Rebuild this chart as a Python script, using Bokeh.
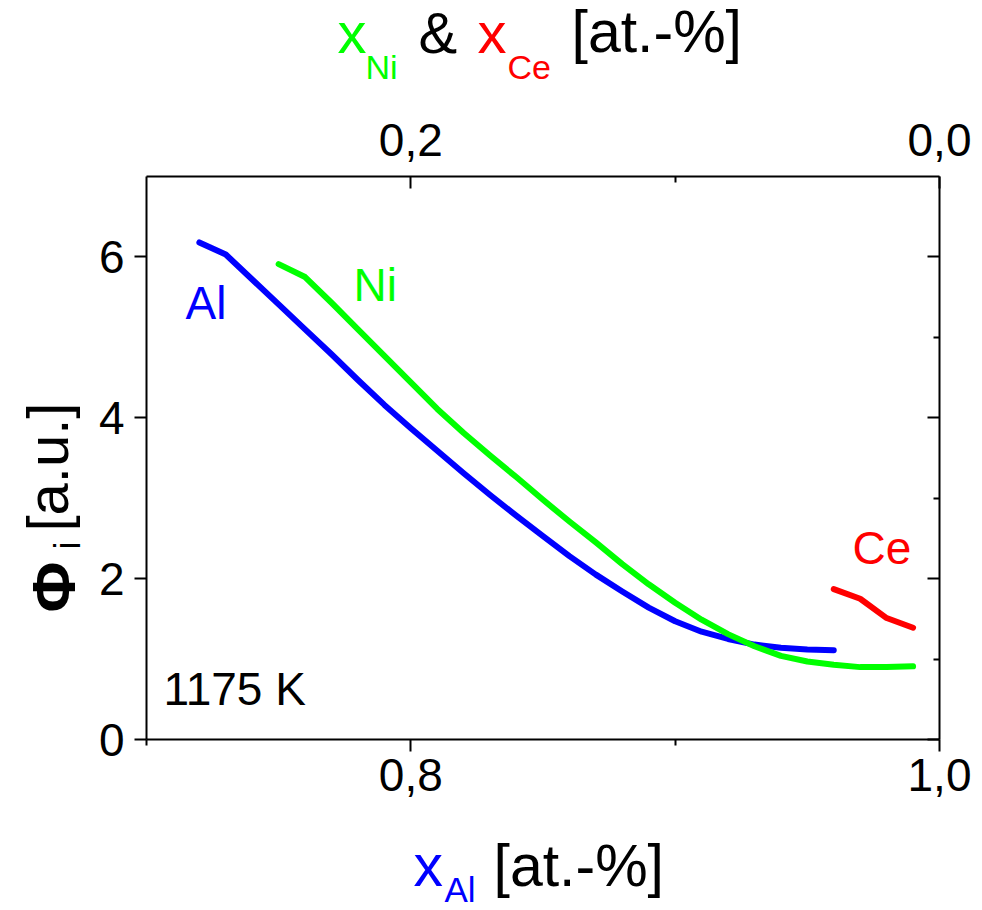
import math
from bokeh.plotting import figure
from bokeh.models import (Range1d, LinearAxis, FixedTicker, CustomJSTickFormatter, Label)
from bokeh.embed import file_html
from bokeh.resources import INLINE

# ---- data ----
al_x = [0.72, 0.73, 0.74, 0.75, 0.76, 0.77, 0.78, 0.79, 0.80, 0.81, 0.82, 0.83, 0.84,
        0.85, 0.86, 0.87, 0.88, 0.89, 0.90, 0.91, 0.92, 0.93, 0.94, 0.95, 0.96]
al_phi = [6.18, 6.03, 5.72, 5.41, 5.10, 4.79, 4.47, 4.16, 3.87, 3.59, 3.31, 3.04, 2.78,
          2.53, 2.28, 2.05, 1.84, 1.64, 1.47, 1.34, 1.25, 1.18, 1.14, 1.12, 1.11]

ni_x = [0.25, 0.24, 0.23, 0.22, 0.21, 0.20, 0.19, 0.18, 0.17, 0.16, 0.15, 0.14, 0.13,
        0.12, 0.11, 0.10, 0.09, 0.08, 0.07, 0.06, 0.05, 0.04, 0.03, 0.02, 0.01]
ni_phi = [5.91, 5.75, 5.43, 5.10, 4.77, 4.44, 4.11, 3.81, 3.53, 3.26, 2.98, 2.71, 2.45,
          2.18, 1.93, 1.70, 1.49, 1.31, 1.16, 1.04, 0.97, 0.93, 0.90, 0.90, 0.91]

ce_x = [0.04, 0.03, 0.02, 0.01]
ce_phi = [1.87, 1.75, 1.51, 1.39]

bottom_major = [0.8, 1.0]
bottom_minor = [0.7, 0.9]
top_major = [0.0, 0.2]
top_minor = [0.1]
y_major = [0, 2, 4, 6]
y_minor = [1, 3, 5]

FONT = "Liberation Sans"
BLUE = "#0000FF"
GREEN = "#00FF00"
RED = "#FF0000"

# ---- layout (pixels) ----
W, H = 982, 910
PL, PR, PT, PB = 146.0, 939.0, 176.0, 739.0   # plot box edges on the canvas
X0, X1 = 0.7, 1.0
Y0, Y1 = 0.0, 7.0
kx = (PR - PL) / (X1 - X0)
ky = (PB - PT) / (Y1 - Y0)
xs, xe = X0 - PL / kx, X1 + (W - PR) / kx
ys, ye = Y0 - (H - PB) / ky, Y1 + PT / ky

p = figure(width=W, height=H, x_range=Range1d(xs, xe), y_range=Range1d(ys, ye),
           output_backend="svg", toolbar_location=None, min_border=0,
           x_axis_location=None, y_axis_location=None)
p.extra_x_ranges = {"top": Range1d(1 - xs, 1 - xe)}
p.grid.visible = False
p.outline_line_color = None
p.background_fill_color = "white"
p.border_fill_color = "white"

fmt1 = CustomJSTickFormatter(code="return tick.toFixed(1).replace('.', ',');")
fmt0 = CustomJSTickFormatter(code="return tick.toFixed(0);")
fmt_none = CustomJSTickFormatter(code="return '';")


def style(ax, tin, tout, mtin, mtout):
    ax.axis_line_width = 2
    ax.axis_line_color = "black"
    ax.major_tick_line_width = 2
    ax.minor_tick_line_width = 2
    ax.major_tick_in = tin
    ax.major_tick_out = tout
    ax.minor_tick_in = mtin
    ax.minor_tick_out = mtout
    ax.major_label_text_font = FONT
    ax.major_label_text_font_size = "46px"
    ax.major_label_text_color = "black"


bottom = LinearAxis(ticker=FixedTicker(ticks=bottom_major, minor_ticks=bottom_minor),
                    formatter=fmt1, fixed_location=Y0, bounds=(X0, X1))
style(bottom, 0, 12, 0, 6)
bottom.major_label_standoff = 7
p.add_layout(bottom, "below")

top = LinearAxis(x_range_name="top",
                 ticker=FixedTicker(ticks=top_major, minor_ticks=top_minor),
                 formatter=fmt1, fixed_location=Y1, bounds=(1 - X1, 1 - X0))
style(top, 12, 0, 6, 0)
top.major_label_standoff = 21
p.add_layout(top, "above")

left = LinearAxis(ticker=FixedTicker(ticks=y_major, minor_ticks=[]), formatter=fmt0,
                  fixed_location=X0, bounds=(Y0, Y1))
style(left, 0, 12, 0, 0)
left.major_label_standoff = 10
p.add_layout(left, "left")

right = LinearAxis(ticker=FixedTicker(ticks=y_major, minor_ticks=y_minor), formatter=fmt_none,
                   fixed_location=X1, bounds=(Y0, Y1))
style(right, 12, 0, 6, 0)
right.major_label_text_font_size = "1px"
p.add_layout(right, "right")

# ---- curves ----
p.line(al_x, al_phi, line_color=BLUE, line_width=6, line_join="round", line_cap="round")
p.line(ni_x, ni_phi, line_color=GREEN, line_width=6, line_join="round", line_cap="round",
       x_range_name="top")
p.line(ce_x, ce_phi, line_color=RED, line_width=6, line_join="round", line_cap="round",
       x_range_name="top")

BASE = 0.37  # baseline correction (fraction of font size) for Label placement


def lab(x, y, text, color="black", size=46, angle=0.0, style_="normal"):
    # x, y: canvas pixels from the top-left corner, at the text's baseline start
    if angle:
        x = x - BASE * size
    else:
        y = y - BASE * size
    p.add_layout(Label(x=x, y=H - y, x_units="screen", y_units="screen", text=text,
                       text_color=color, text_font=FONT, text_font_size=f"{size}px",
                       text_baseline="alphabetic", text_align="left", angle=angle,
                       text_font_style=style_))


# in-plot annotations
lab(185, 320, "Al", BLUE)
lab(353, 302, "Ni", GREEN)
lab(852, 565, "Ce", RED)
lab(163, 706, "1175 K")

# bottom axis title
lab(413, 887, "x", BLUE, 59)
lab(444, 902, "Al", BLUE, 35)
lab(493, 887, "[at.-%]", "black", 59)

# top axis title
lab(337, 53, "x", GREEN, 58)
lab(365, 79, "Ni", GREEN, 34)
lab(418, 53, "&", "black", 58)
lab(477, 53, "x", RED, 58)
lab(507, 79, "Ce", RED, 34)
lab(571, 53, "[at.-%]", "black", 59)

# y axis title (rotated, reading upwards)
ang = math.pi / 2
lab(76, 612, "\u03a6", "black", 62, ang, "bold")
lab(80, 549, "i", "black", 36, ang)
lab(68, 531, "[a.u.]", "black", 58, ang)

open("out.html", "w").write(file_html(p, INLINE))
